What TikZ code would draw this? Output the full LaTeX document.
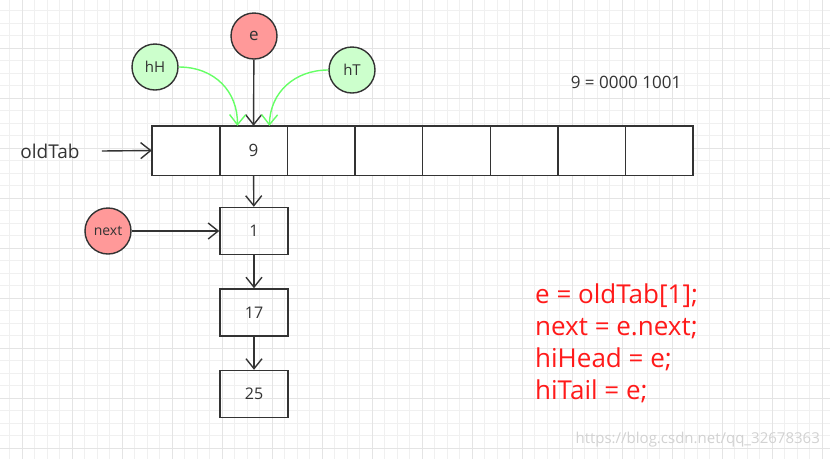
\documentclass[tikz,border=0pt]{standalone}
\usepackage{fontspec}
\setmainfont{Open Sans}
\usetikzlibrary{arrows.meta,positioning}
\definecolor{linegray}{HTML}{333333}
\definecolor{redfill}{HTML}{FF9999}
\definecolor{greenfill}{HTML}{CCFFCC}
\definecolor{greenline}{HTML}{66FF66}
\definecolor{codered}{HTML}{FF1A1A}
\definecolor{minorgrid}{HTML}{F0F0F0}
\definecolor{majorgrid}{HTML}{E4E4E4}
\tikzset{
  cellbox/.style={minimum width=67.6pt, minimum height=49pt,
    inner sep=0pt, font=\fontsize{16}{16}\selectfont, text=linegray},
  listbox/.style={cellbox, draw=linegray, line width=1.4pt, minimum width=68pt, minimum height=47pt},
  redball/.style={circle, draw=linegray, line width=1.4pt, fill=redfill, minimum size=46pt,
    inner sep=0pt, text=linegray},
  greenball/.style={redball, fill=greenfill},
  link/.style={draw=linegray, line width=1.4pt, -{Straight Barb[length=10pt,width=16pt,line width=1.4pt]}},
  greenlink/.style={link, draw=greenline},
  graytext/.style={text=linegray, font=\fontsize{17}{17}\selectfont, inner sep=0pt},
}
\begin{document}
\begin{tikzpicture}[x=1pt, y=-1pt]
  \useasboundingbox (0,0) rectangle (830,459);
  \fill[white] (0,0) rectangle (830,459);

  % background grid
  \foreach \i in {0,...,66}
    \draw[minorgrid, line width=1pt] ({9.8+12.5*\i},0) -- ++(0,459);
  \foreach \j in {0,...,36}
    \draw[minorgrid, line width=1pt] (0,{10.8+12.5*\j}) -- ++(830,0);
  \foreach \i in {0,...,16}
    \draw[majorgrid, line width=1pt] ({22.3+50*\i},0) -- ++(0,459);
  \foreach \j in {1,...,9}
    \draw[majorgrid, line width=1pt] (0,{-1.7+50*\j}) -- ++(830,0);

  % the table
  \foreach \k in {1,...,8}
    \node[cellbox] (c\k) at ({152+67.6*(\k-0.5)},150.5) {};
  \draw[linegray, line width=1.4pt, fill=white] (c1.north west) rectangle (c8.south east);
  \foreach \k in {1,...,7}
    \draw[linegray, line width=1.4pt] (c\k.north east) -- (c\k.south east);
  \node[graytext] at (c2) {9};
  \node[graytext, font=\fontsize{19}{19}\selectfont] (oldtab) at (50,151) {oldTab};
  \node[graytext] (bits) at (626,82) {9 = 0000 1001};

  % chain
  \node[listbox] (n1) at (254,231) {1};
  \node[listbox] (n17) at (254,312.5) {17};
  \node[listbox] (n25) at (254,394) {25};

  % pointers
  \node[redball, font=\fontsize{17}{17}\selectfont] (e) at (254,36) {e};
  \node[greenball, font=\fontsize{15}{15}\selectfont] (hH) at (155,67) {hH};
  \node[greenball, font=\fontsize{15}{15}\selectfont] (hT) at (352,70) {hT};
  \node[redball, font=\fontsize{14}{14}\selectfont] (next) at (108,231) {next};

  \draw[link] (e) -- (c2);
  \draw[greenlink] (hH.east) .. controls (215,67) and (238,92) .. ([xshift=-16pt]c2.north);
  \draw[greenlink] (hT.west) .. controls (295,70) and (270,92) .. ([xshift=16pt]c2.north);
  \draw[link] ([xshift=22pt]oldtab.east) -- (c1.west);
  \draw[link] (c2) -- (n1);
  \draw[link] (next) -- (n1);
  \draw[link] (n1) -- (n17);
  \draw[link] (n17) -- (n25);

  % code
  \node[anchor=north west, inner sep=0pt, align=left, text=codered,
    font=\fontsize{26}{31.7}\selectfont] (code) at (535,284)
    {e = oldTab[1];\\next = e.next;\\hiHead = e;\\hiTail = e;};
  \node[anchor=east, inner sep=0pt, text=gray!35, font=\fontsize{15}{15}\selectfont]
    (mark) at (820,440) {https://blog.csdn.net/qq\_32678363};
\end{tikzpicture}
\end{document}
